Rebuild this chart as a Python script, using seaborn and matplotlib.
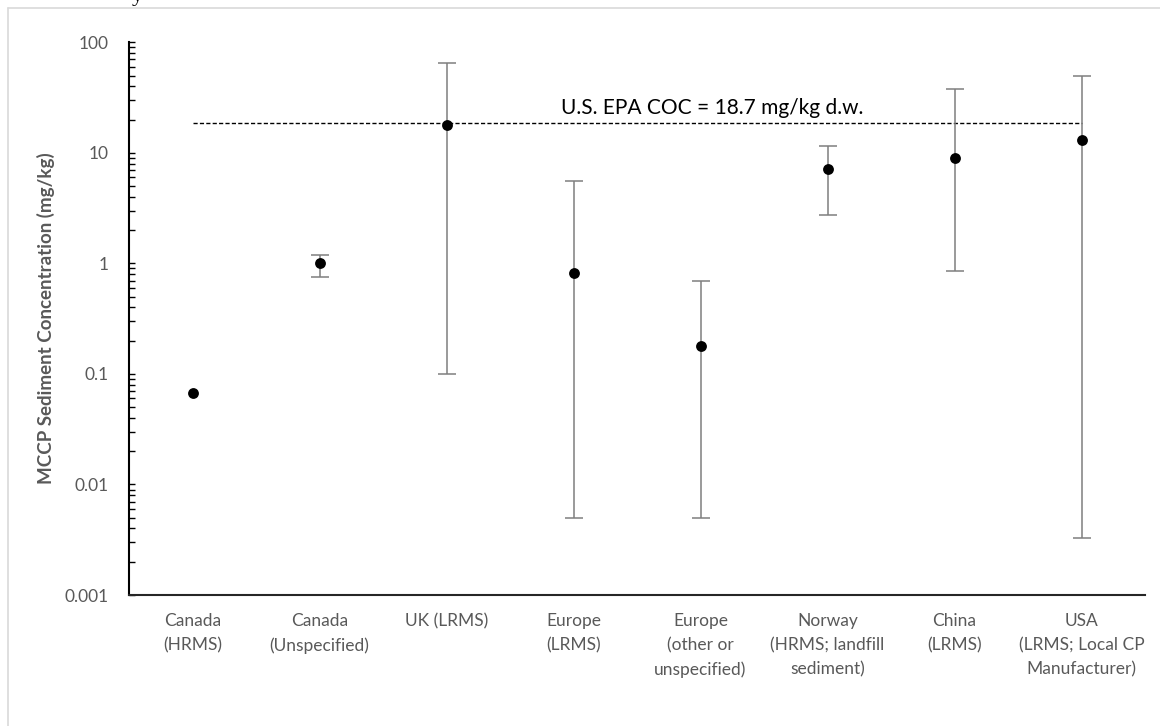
import numpy as np
import pandas as pd
import matplotlib
matplotlib.use("Agg")
import matplotlib.pyplot as plt
from matplotlib.lines import Line2D
from matplotlib.ticker import LogLocator, FixedLocator, FixedFormatter, NullFormatter
import seaborn as sns

# MCCP concentrations in sediment by region / analytical method (mg/kg)
categories = [
    "Canada\n(HRMS)",
    "Canada\n(Unspecified)",
    "UK (LRMS)",
    "Europe\n(LRMS)",
    "Europe\n(other or\nunspecified)",
    "Norway\n(HRMS; landfill\nsediment)",
    "China\n(LRMS)",
    "USA\n(LRMS; Local CP\nManufacturer)",
]
central = [0.067, 1.0, 17.7, 0.81, 0.18, 7.1, 8.9, 13.2]
range_low = [np.nan, 0.76, 0.10, 0.005, 0.005, 2.75, 0.86, 0.0033]
range_high = [np.nan, 1.2, 65.0, 5.6, 0.70, 11.6, 37.5, 50.0]

coc_value = 18.7
coc_label = "U.S. EPA COC = 18.7 mg/kg d.w."

y_ticks = [0.001, 0.01, 0.1, 1, 10, 100]
y_tick_labels = ["0.001", "0.01", "0.1", "1", "10", "100"]

sns.set_theme(style="white")
plt.rcParams["font.family"] = ["Lato", "DejaVu Sans"]

W, H = 1160, 726
fig = plt.figure(figsize=(W / 100, H / 100), dpi=100)
ax = fig.add_axes([129 / W, 1 - 595 / H, (1145 - 129) / W, (595 - 42.3) / H])

df = pd.DataFrame({"category": categories, "value": central})

grey_text = "#595959"
err_grey = "#7f7f7f"

# error bars (ranges) first so the points sit on top
pos = np.arange(len(categories))
low = np.array(range_low)
high = np.array(range_high)
val = np.array(central)
has_range = ~np.isnan(low)
ax.errorbar(
    pos[has_range], val[has_range],
    yerr=[val[has_range] - low[has_range], high[has_range] - val[has_range]],
    fmt="none", ecolor=err_grey, elinewidth=1.1, capsize=6.5, capthick=1.1, zorder=2,
)

sns.stripplot(
    data=df, x="category", y="value", order=categories, jitter=False,
    color="black", size=7.8, linewidth=0, ax=ax, zorder=3,
)

# U.S. EPA chronic exposure threshold
ax.hlines(coc_value, pos[0], pos[-1], colors="black", linewidth=1.0,
          linestyles=(0, (3, 1.6)), zorder=1)
ax.annotate(coc_label, xy=(4.09, coc_value), xytext=(0, 6.3),
            textcoords="offset points", ha="center", va="baseline",
            fontsize=15, color="black")

ax.set_yscale("log")
ax.set_ylim(0.001, 100)
ax.set_xlim(-0.5, len(categories) - 0.5)

ax.yaxis.set_major_locator(FixedLocator(y_ticks))
ax.yaxis.set_major_formatter(FixedFormatter(y_tick_labels))
ax.yaxis.set_minor_locator(LogLocator(base=10, subs=np.arange(2, 10)))
ax.yaxis.set_minor_formatter(NullFormatter())
ax.tick_params(axis="y", which="both", direction="in", length=4.5, width=1.0,
               color="black", left=True, labelsize=12.5, labelcolor=grey_text, pad=14.5)
ax.tick_params(axis="x", which="both", length=0, pad=13, labelsize=12.5,
               labelcolor=grey_text)
for lbl in ax.get_xticklabels():
    lbl.set_linespacing(1.6)
    lbl.set_ha("center")

for side in ["top", "right"]:
    ax.spines[side].set_visible(False)
ax.spines["left"].set_color("black")
ax.spines["left"].set_linewidth(1.5)
ax.spines["bottom"].set_color("#262626")
ax.spines["bottom"].set_linewidth(1.5)

ax.set_xlabel("")
ax.set_ylabel("")
fig.text(46 / W, 1 - 318 / H, "MCCP Sediment Concentration (mg/kg)",
         rotation=90, ha="center", va="center", fontsize=13.5,
         fontweight="bold", color=grey_text)

# chart frame
frame_c = "#d9d9d9"
fig.add_artist(Line2D([8 / W, 8 / W], [0, 1 - 7.5 / H], color=frame_c, lw=1.2,
                      transform=fig.transFigure))
fig.add_artist(Line2D([8 / W, 1], [1 - 7.5 / H, 1 - 7.5 / H], color=frame_c, lw=1.2,
                      transform=fig.transFigure))

# tail of the caption line above the chart
fig.text(137 / W, 1 - 0.5 / H, "y", ha="center", va="baseline", fontsize=16,
         family=["Liberation Serif", "DejaVu Serif"], color="black")

fig.savefig("out.png", dpi=100)
